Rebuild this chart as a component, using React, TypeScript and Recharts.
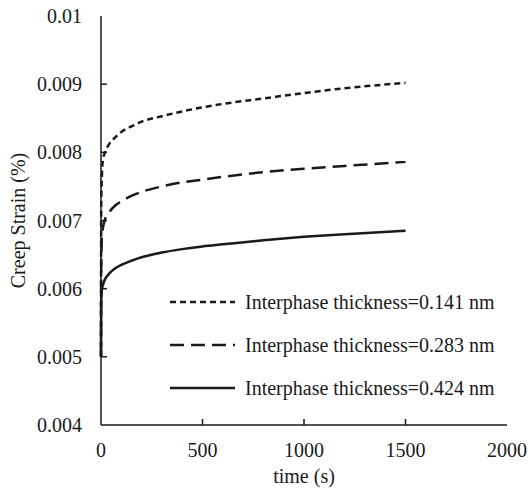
import { LineChart, Line, XAxis, YAxis, Label } from "recharts";

const times = [0, 1, 5, 10, 20, 40, 70, 100, 150, 200, 300, 400, 500, 600, 800, 1000, 1200, 1500];
const strain141 = [0.005, 0.0072, 0.0077, 0.0079, 0.008, 0.00812, 0.00822, 0.0083, 0.00838, 0.00845, 0.00853, 0.0086, 0.00866, 0.00871, 0.00879, 0.00887, 0.00894, 0.00902];
const strain283 = [0.005, 0.0063, 0.0068, 0.0069, 0.00702, 0.00712, 0.00722, 0.00728, 0.00736, 0.00742, 0.0075, 0.00756, 0.0076, 0.00764, 0.00771, 0.00776, 0.0078, 0.00786];
const strain424 = [0.005, 0.0058, 0.006, 0.00606, 0.00614, 0.00622, 0.0063, 0.00635, 0.00641, 0.00646, 0.00653, 0.00658, 0.00662, 0.00665, 0.00671, 0.00676, 0.0068, 0.00685];

const xTicks = [0, 500, 1000, 1500, 2000];
const yTicks = [0.004, 0.005, 0.006, 0.007, 0.008, 0.009, 0.01];

const series = [
  { key: "s141", name: "Interphase thickness=0.141 nm", dash: "6 4" },
  { key: "s283", name: "Interphase thickness=0.283 nm", dash: "14 7" },
  { key: "s424", name: "Interphase thickness=0.424 nm", dash: undefined },
];

const data = times.map((t, i) => ({
  t,
  s141: strain141[i],
  s283: strain283[i],
  s424: strain424[i],
}));

const FONT = "'Times New Roman', 'Liberation Serif', serif";
const INK = "#1a1a1a";
const FS = 20;

function YTick(props: any) {
  const { x, y, payload } = props;
  const v = payload.value;
  const label = v === 0.01 ? "0.01" : v.toFixed(3);
  const showTick = v !== 0.004 && v !== 0.01;
  return (
    <g>
      {showTick && <line x1={x + 19} x2={x + 25} y1={y} y2={y} stroke={INK} strokeWidth={1.5} />}
      <text x={x} y={y} dy="0.35em" textAnchor="end" style={{ fontFamily: FONT, fontSize: FS }} fill={INK}>
        {label}
      </text>
    </g>
  );
}

function XTick(props: any) {
  const { x, y, payload } = props;
  const v = payload.value;
  const showTick = v !== 0 && v !== 2000;
  return (
    <g>
      {showTick && <line x1={x} x2={x} y1={y - 18} y2={y - 24} stroke={INK} strokeWidth={1.5} />}
      <text x={x} y={y} dy="0.71em" textAnchor="middle" style={{ fontFamily: FONT, fontSize: FS }} fill={INK}>
        {v}
      </text>
    </g>
  );
}

function LegendBox() {
  return (
    <svg width={350} height={110} style={{ position: "absolute", left: 170, top: 290 }}>
      {series.map((s, i) => {
        const cy = 12 + i * 43;
        return (
          <g key={s.key}>
            <line x1={0} x2={65} y1={cy} y2={cy} stroke={INK} strokeWidth={2.5} strokeDasharray={s.dash} />
            <text x={75} y={cy} dy="0.35em" style={{ fontFamily: FONT, fontSize: FS }} fill={INK}>
              {s.name}
            </text>
          </g>
        );
      })}
    </svg>
  );
}

export default function App() {
  return (
    <div style={{ position: "absolute", left: 0, top: 0, width: 528, height: 488, background: "#fff" }}>
      <LineChart width={528} height={488} data={data} margin={{ top: 16, right: 21, bottom: 33, left: 41 }}>
        <XAxis
          dataKey="t"
          type="number"
          domain={[0, 2000]}
          ticks={xTicks}
          tickLine={false}
          tickSize={0}
          tickMargin={18}
          tick={<XTick />}
          axisLine={{ stroke: INK, strokeWidth: 1.5 }}
          height={30}
        >
          <Label value="time (s)" position="insideBottom" offset={-28} style={{ fontFamily: FONT, fontSize: FS }} fill={INK} />
        </XAxis>
        <XAxis xAxisId="top" orientation="top" dataKey="t" type="number" domain={[0, 2000]} tick={false} tickLine={false} height={0} axisLine={{ stroke: INK, strokeWidth: 1.5 }} />
        <YAxis
          type="number"
          domain={[0.004, 0.01]}
          ticks={yTicks}
          tickLine={false}
          tickSize={0}
          tickMargin={19}
          tick={<YTick />}
          axisLine={{ stroke: INK, strokeWidth: 1.5 }}
          width={60}
        >
          <Label value="Creep Strain (%)" angle={-90} position="insideLeft" offset={-23} style={{ textAnchor: "middle", fontFamily: FONT, fontSize: FS }} fill={INK} />
        </YAxis>
        <YAxis yAxisId="right" orientation="right" domain={[0.004, 0.01]} tick={false} tickLine={false} width={0} axisLine={{ stroke: INK, strokeWidth: 1.5 }} />
        {series.map((s) => (
          <Line
            key={s.key}
            dataKey={s.key}
            name={s.name}
            type="monotone"
            stroke={INK}
            strokeWidth={2.5}
            strokeDasharray={s.dash}
            dot={false}
            isAnimationActive={false}
          />
        ))}
      </LineChart>
      <LegendBox />
    </div>
  );
}
